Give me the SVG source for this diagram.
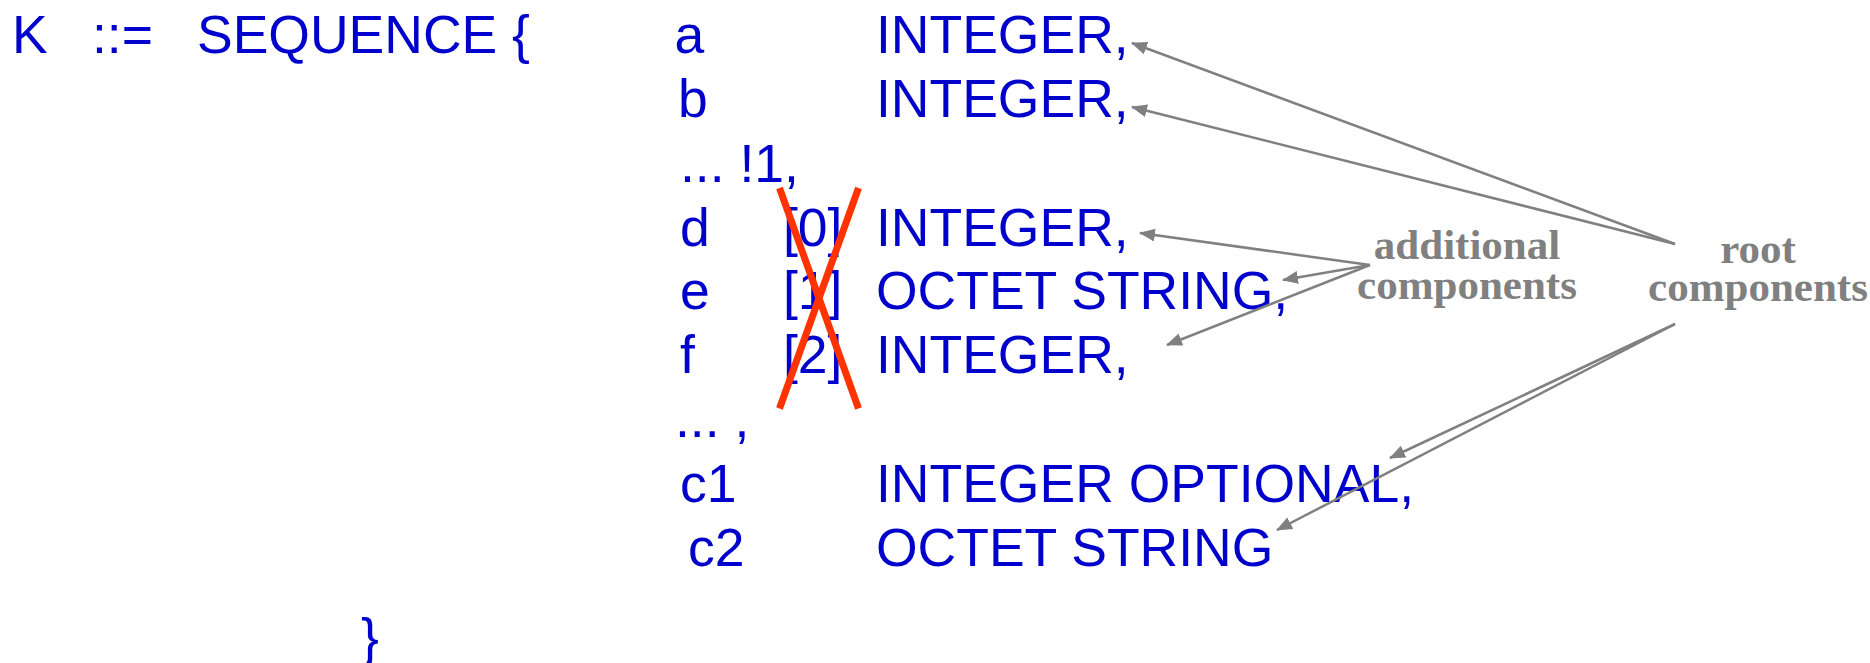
<svg xmlns="http://www.w3.org/2000/svg" width="1870" height="663" viewBox="0 0 1870 663">
<style>
.t{font-family:"Liberation Sans",Arial,sans-serif;font-size:53.5px;fill:#0000CC}
.lbl{font-family:"Liberation Serif","Times New Roman",serif;font-weight:bold;font-size:43px;fill:#808080;text-anchor:middle}
.arr{stroke:#808080;stroke-width:2.5;fill:none;marker-end:url(#ah)}
.x{stroke:#FF3300;stroke-width:7;stroke-linecap:butt}
</style>
<defs>
<marker id="ah" markerUnits="userSpaceOnUse" markerWidth="16" markerHeight="13" refX="15" refY="6.5" orient="auto">
<path d="M0,0 L16,6.5 L0,13 z" fill="#808080"/>
</marker>
</defs>
<rect width="1870" height="663" fill="#FFFFFF"/>
<g id="header">
<text class="t" x="12" y="53">K</text>
<text class="t" x="92" y="53">::=</text>
<text class="t" x="197" y="53">SEQUENCE {</text>
</g>
<g id="row-a"><text class="t" x="674.5" y="53">a</text><text class="t" x="876" y="53">INTEGER,</text></g>
<g id="row-b"><text class="t" x="678" y="117">b</text><text class="t" x="876" y="117">INTEGER,</text></g>
<g id="row-ext1"><text class="t" x="680" y="182">... !1,</text></g>
<g id="row-d"><text class="t" x="680" y="246">d</text><text class="t" x="783" y="246">[0]</text><text class="t" x="876" y="246">INTEGER,</text></g>
<g id="row-e"><text class="t" x="680" y="309">e</text><text class="t" x="783" y="309">[1]</text><text class="t" x="876" y="309">OCTET STRING,</text></g>
<g id="row-f"><text class="t" x="680" y="373">f</text><text class="t" x="783" y="373">[2]</text><text class="t" x="876" y="373">INTEGER,</text></g>
<g id="row-ext2"><text class="t" x="675" y="437">... ,</text></g>
<g id="row-c1"><text class="t" x="680" y="502">c1</text><text class="t" x="876" y="502">INTEGER OPTIONAL,</text></g>
<g id="row-c2"><text class="t" x="688" y="566">c2</text><text class="t" x="876" y="566">OCTET STRING</text></g>
<g id="close"><text class="t" x="361" y="656">}</text></g>
<g id="cross">
<line class="x" x1="779.5" y1="188" x2="858.5" y2="408.5"/>
<line class="x" x1="858.5" y1="188" x2="779.5" y2="408.5"/>
</g>
<g id="label-additional">
<text class="lbl" x="1467" y="259">additional</text>
<text class="lbl" x="1467" y="299">components</text>
</g>
<g id="label-root">
<text class="lbl" x="1758" y="263">root</text>
<text class="lbl" x="1758" y="301">components</text>
</g>
<g id="connectors">
<line class="arr" x1="1675" y1="244" x2="1132" y2="43"/>
<line class="arr" x1="1675" y1="244" x2="1132" y2="107"/>
<line class="arr" x1="1370" y1="265" x2="1140" y2="233"/>
<line class="arr" x1="1370" y1="265" x2="1283" y2="280"/>
<line class="arr" x1="1370" y1="265" x2="1167" y2="345"/>
<line class="arr" x1="1675" y1="324" x2="1390" y2="458"/>
<line class="arr" x1="1675" y1="324" x2="1277" y2="530"/>
</g>
</svg>
